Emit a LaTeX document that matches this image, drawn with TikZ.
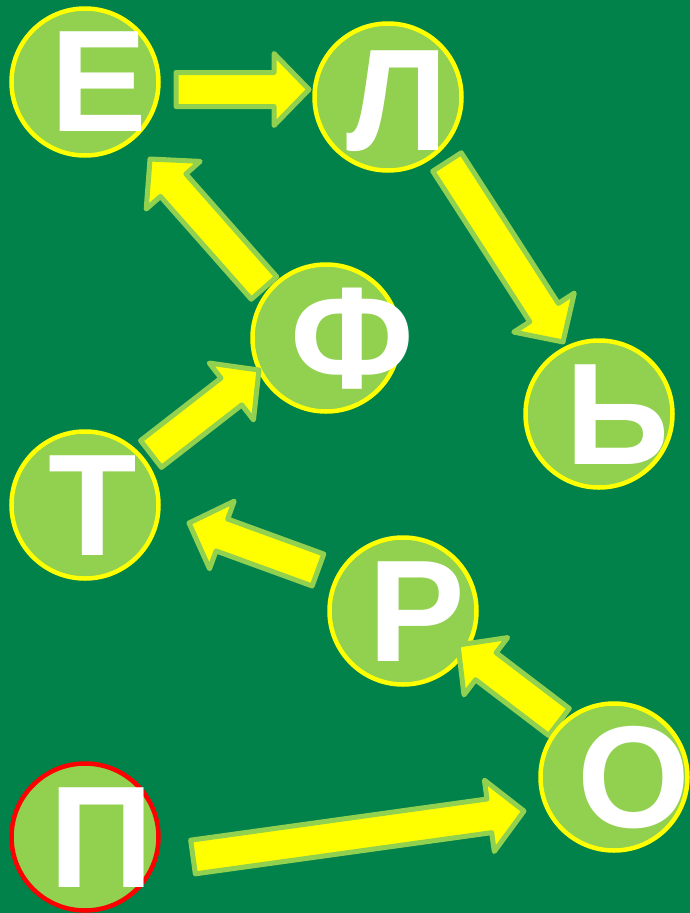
\documentclass[tikz,border=0pt]{standalone}
\usepackage{fontspec}
\setmainfont{Liberation Sans}
\usetikzlibrary{calc}
\definecolor{bggreen}{RGB}{0,130,74}
\definecolor{ballfill}{RGB}{146,208,80}
\definecolor{ringyellow}{RGB}{255,255,0}
\definecolor{ringred}{RGB}{255,0,0}
\tikzset{
  ball/.style={circle,draw=ringyellow,line width=4.5pt,fill=ballfill,minimum size=147pt,inner sep=0pt},
  startball/.style={ball,draw=ringred},
  letter/.style={text=white,font=\fontsize{145}{145}\selectfont\bfseries,inner sep=0pt},
  barrow/.style={fill=ringyellow,draw=ballfill,line width=5pt,line join=round}
}
\newcommand\blockarr[2]{%
  \coordinate (bh) at ($(#2)!35pt!(#1)$);
  \draw[barrow] ($(#1)!17pt!90:(#2)$) -- ($(bh)!17pt!-90:(#1)$) -- ($(bh)!36pt!-90:(#1)$) -- (#2)
    -- ($(bh)!36pt!90:(#1)$) -- ($(bh)!17pt!90:(#1)$) -- ($(#1)!17pt!-90:(#2)$) -- cycle;}
\begin{document}
\begin{tikzpicture}[x=1pt,y=-1pt]
\fill[bggreen] (0,0) rectangle (690,913);
\useasboundingbox (0,0) rectangle (690,913);
% circles
\node[ball] (E) at (85,82) {};
\node[ball] (L) at (388,97) {};
\node[ball] (F) at (326,338) {};
\node[ball] (Y) at (599,414) {};
\node[ball] (T) at (85,505) {};
\node[ball] (R) at (403,611) {};
\node[startball] (P) at (85,837) {};
% arrow ends
\coordinate (a1s) at (176,89.5);  \coordinate (a1e) at (309,89.5);
\coordinate (a2s) at (264,288);   \coordinate (a2e) at (150,159);
\coordinate (a3s) at (151,454);   \coordinate (a3e) at (259,370);
\coordinate (a4s) at (447,162);   \coordinate (a4e) at (563,342);
\coordinate (a5s) at (318,570);   \coordinate (a5e) at (189,523);
\coordinate (a6s) at (559,722);   \coordinate (a6e) at (458,645);
\coordinate (a7s) at (193,857);   \coordinate (a7e) at (524,811);
\blockarr{a1s}{a1e}
\blockarr{a2s}{a2e}
\blockarr{a3s}{a3e}
\blockarr{a4s}{a4e}
\blockarr{a5s}{a5e}
\blockarr{a6s}{a6e}
\blockarr{a7s}{a7e}
\node[ball] (O) at (614,777) {};
% letters
\node[letter] (tE) at (99,82) {Е};
\node[letter] (tL) at (397,101) {Л};
\node[letter] (tF) at (352,339) {Ф};
\node[letter] (tY) at (618,415) {Ь};
\node[letter] (tT) at (93,506) {Т};
\node[letter] (tR) at (417,612) {Р};
\node[letter] (tO) at (634,778) {О};
\node[letter] (tP) at (102,838) {П};
\end{tikzpicture}
\end{document}
